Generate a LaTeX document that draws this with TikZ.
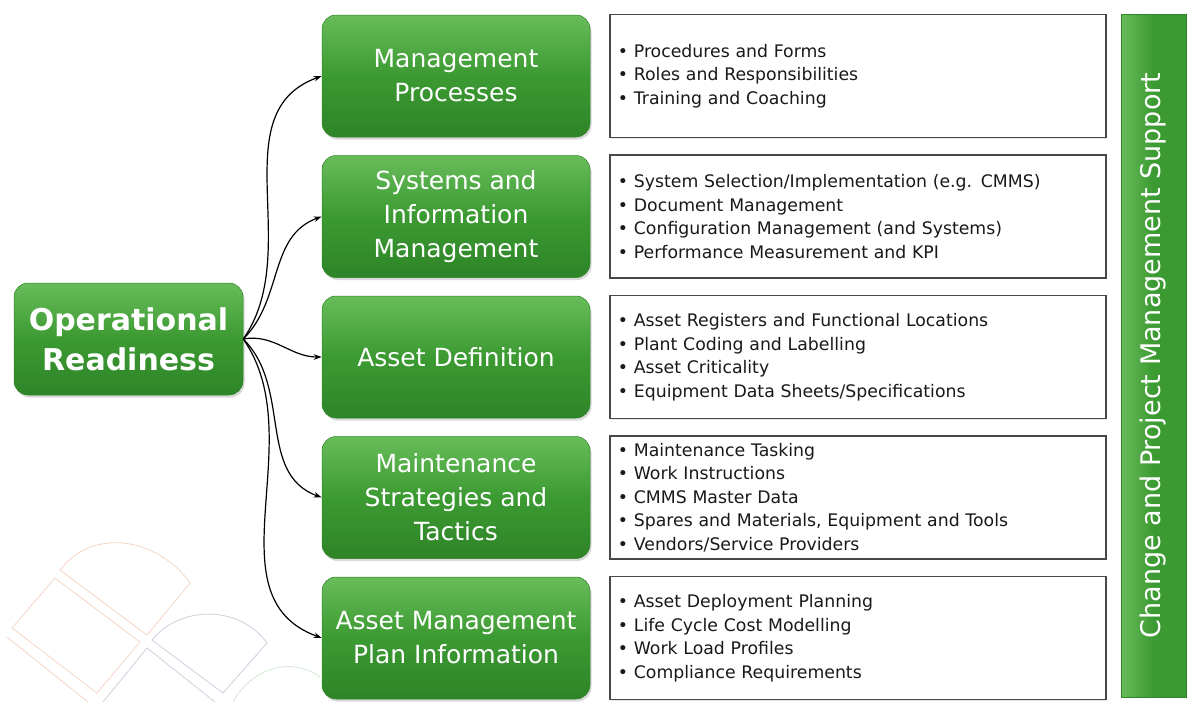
\documentclass[tikz,border=0pt]{standalone}
\usepackage{fontspec}
\setmainfont{DejaVu Sans}
\usetikzlibrary{
  positioning,
  shadows,
  shadings,
  arrows.meta
}
\definecolor{grtop}{RGB}{104,188,90}
\definecolor{grmid}{RGB}{60,154,50}
\definecolor{grbot}{RGB}{46,132,40}
\definecolor{frame}{RGB}{72,72,72}
\definecolor{peach}{RGB}{244,214,198}
\definecolor{slate}{RGB}{204,208,220}
\definecolor{mint}{RGB}{212,232,210}

\begin{document}
\begin{tikzpicture}[
    x=1pt, y=-1pt,
    greenbox/.style={
      rounded corners=14pt,
      top color=grtop, bottom color=grbot, middle color=grmid,
      draw=grbot, line width=0.5pt,
      drop shadow={opacity=0.3, shadow xshift=1.5pt, shadow yshift=-2.5pt},
      text=white, align=center,
      minimum width=268pt, minimum height=122pt,
      font=\fontsize{25}{34}\selectfont
      },
    listbox/.style={
      draw=frame, line width=1.3pt, fill=white,
      drop shadow={opacity=0.2, shadow xshift=1pt, shadow yshift=-1pt},
      text width=480pt, inner xsep=8pt, inner ysep=2pt,
      minimum height=123pt, align=left, text=black!90,
      font=\fontsize{17.3}{23.5}\selectfont
      },
    sidebar/.style={
      rotate=90,
      left color=grtop, right color=grmid, middle color=grmid,
      draw=grbot, line width=0.5pt,
      minimum width=683pt, minimum height=65pt,
      text=white, font=\fontsize{27}{30}\selectfont
      },
    link/.style={-{Stealth[length=8pt,width=5.5pt]}, line width=1.2pt, black}
    ]

\useasboundingbox (0,0) rectangle (1194,702);

\begin{scope}[line width=0.8pt]
  \draw[peach] (60,570) .. controls (95,525) and (160,540) .. (190,583) -- (147,635) -- cycle;
  \draw[peach] (55,578) -- (140,642) -- (97,693) -- (12,628) -- cycle;
  \draw[peach] (7,637) -- (88,702);
  \draw[slate] (152,640) .. controls (180,605) and (240,605) .. (267,643) -- (223,693) -- cycle;
  \draw[slate] (103,702) -- (147,648) -- (215,702);
  \draw[mint] (233,702) .. controls (250,670) and (290,655) .. (320,677);
\end{scope}

\node[greenbox, minimum width=229pt, minimum height=112pt,
  font=\bfseries\fontsize{30}{40}\selectfont] (or) at (128.5,339) {Operational\\Readiness};

\node[greenbox] (mp) at (456,76) {Management\\Processes};
\node[greenbox, below=18pt of mp] (sim) {Systems and\\Information\\Management};
\node[greenbox, below=18pt of sim] (ad) {Asset Definition};
\node[greenbox, below=18pt of ad] (mst) {Maintenance\\Strategies and\\Tactics};
\node[greenbox, below=18pt of mst] (amp) {Asset Management\\Plan Information};

\node[listbox, right=19pt of mp] (mplist) {%
  • Procedures and Forms\\
  • Roles and Responsibilities\\
  • Training and Coaching};
\node[listbox, right=19pt of sim] (simlist) {%
  • System Selection/Implementation (e.g. CMMS)\\
  • Document Management\\
  • Configuration Management (and Systems)\\
  • Performance Measurement and KPI};
\node[listbox, right=19pt of ad] (adlist) {%
  • Asset Registers and Functional Locations\\
  • Plant Coding and Labelling\\
  • Asset Criticality\\
  • Equipment Data Sheets/Specifications};
\node[listbox, right=19pt of mst] (mstlist) {%
  • Maintenance Tasking\\
  • Work Instructions\\
  • CMMS Master Data\\
  • Spares and Materials, Equipment and Tools\\
  • Vendors/Service Providers};
\node[listbox, right=19pt of amp] (amplist) {%
  • Asset Deployment Planning\\
  • Life Cycle Cost Modelling\\
  • Work Load Profiles\\
  • Compliance Requirements};

\node[sidebar] (cpm) at (1153.5,355.5) {Change and Project Management Support};

\draw[link] (or.east) to[out=55, in=200] (mp.west);
\draw[link] (or.east) to[out=45, in=200] (sim.west);
\draw[link] (or.east) to[out=10, in=180] (ad.west);
\draw[link] (or.east) to[out=-45, in=160] (mst.west);
\draw[link] (or.east) to[out=-55, in=160] (amp.west);
\end{tikzpicture}
\end{document}
